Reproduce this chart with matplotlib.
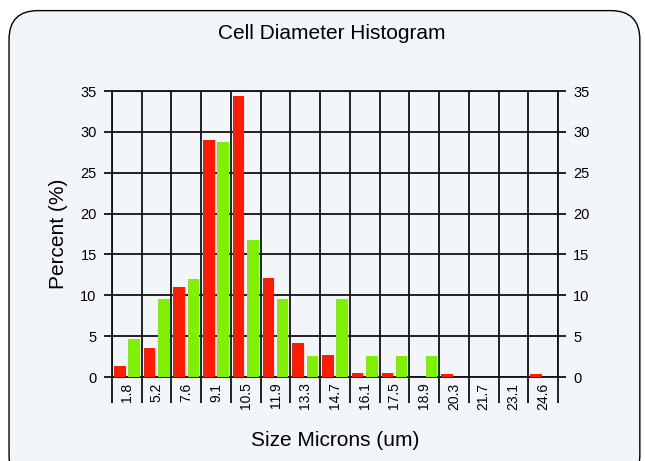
import matplotlib
matplotlib.use("Agg")
import matplotlib.pyplot as plt
from matplotlib.patches import FancyBboxPatch
import numpy as np

plt.rcParams['font.family'] = ['Liberation Sans', 'DejaVu Sans']

categories = ["1.8", "5.2", "7.6", "9.1", "10.5", "11.9", "13.3", "14.7",
              "16.1", "17.5", "18.9", "20.3", "21.7", "23.1", "24.6"]
red_values = [1.4, 3.6, 11.0, 29.0, 34.4, 12.1, 4.2, 2.7,
              0.55, 0.55, 0.0, 0.4, 0.0, 0.0, 0.4]
green_values = [4.6, 9.6, 12.0, 28.8, 16.8, 9.6, 2.55, 9.6,
                2.55, 2.55, 2.55, 0.0, 0.0, 0.0, 0.0]
y_ticks = [0, 5, 10, 15, 20, 25, 30, 35]

bg = "#F3F6F9"
fig = plt.figure(figsize=(6.45, 4.61), dpi=100)
fig.patch.set_facecolor("white")
box = FancyBboxPatch((0.014, -0.05), 0.978, 1.027,
                     boxstyle="round,pad=0,rounding_size=0.045",
                     transform=fig.transFigure, facecolor=bg,
                     edgecolor="black", linewidth=1.0,
                     mutation_aspect=645/461, zorder=-5)
fig.patches.append(box)

ax = fig.add_axes([112/645, 1 - 377/461, (558 - 112)/645, (377 - 91)/461])
ax.set_zorder(2)
ax.set_facecolor(bg)

x = np.arange(len(categories))
ax.bar(x - 0.24, red_values, width=0.39, color="#FF1A00", zorder=3)
ax.bar(x + 0.24, green_values, width=0.39, color="#7FF000", zorder=3)

ax.set_xlim(-0.5, len(categories) - 0.5)
ax.set_ylim(0, 35)

# boundaries as major ticks (gridlines + long tick marks), labels at centers
ax.set_xticks(np.arange(len(categories) + 1) - 0.5)
ax.set_xticklabels([])
ax.set_xticks(x, minor=True)
ax.set_xticklabels(categories, minor=True, rotation=90, fontsize=10)
ax.tick_params(axis="x", which="major", length=19, width=1.3, color="#111111")
ax.tick_params(axis="x", which="minor", length=0, pad=4)

ax.set_yticks(y_ticks)
ax.tick_params(axis="y", which="both", left=True, right=True,
               labelleft=True, labelright=True, length=6, width=1.3,
               color="#111111", labelsize=10.5, pad=5)

ax.grid(True, which="major", color="#111111", linewidth=1.3, zorder=1)
ax.set_axisbelow(True)
for s in ax.spines.values():
    s.set_color("#111111")
    s.set_linewidth(1.3)

ax.set_ylabel("Percent (%)", fontsize=15, labelpad=9)
ax.set_xlabel("Size Microns (um)", fontsize=15, labelpad=15)
fig.text(0.515, 0.928, "Cell Diameter Histogram", ha="center", va="center",
         fontsize=15)

fig.savefig("out.png", dpi=100, facecolor=fig.get_facecolor())
